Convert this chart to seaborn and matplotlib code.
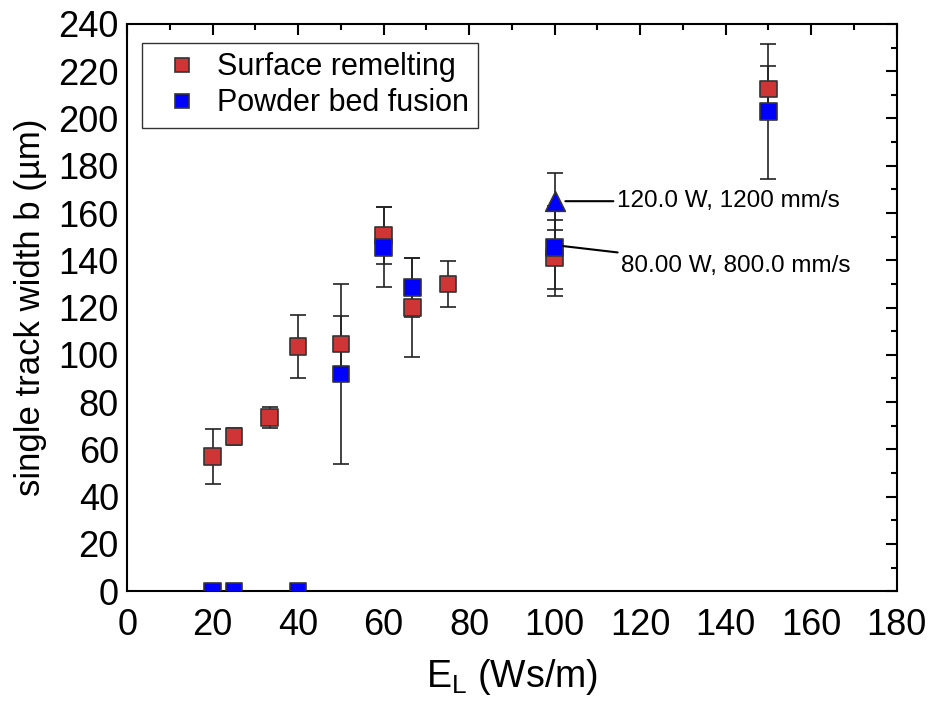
import pandas as pd
import matplotlib.pyplot as plt
import seaborn as sns
from matplotlib.ticker import MultipleLocator

# surface remelting
sr_el = [20, 25, 33.3, 40, 50, 60, 66.7, 75, 100, 150]
sr_b = [57, 65.5, 73.5, 103.5, 104.5, 150.5, 120, 130, 141, 212.5]
sr_err = [11.5, 3.7, 4.3, 13.5, 12, 12, 21, 9.6, 16, 9.7]

# powder bed fusion
pbf_el = [20, 25, 40, 50, 60, 66.7, 100, 150]
pbf_b = [0, 0, 0, 92, 145.5, 128.5, 145.5, 203]
pbf_err = [0, 0, 0, 38, 17, 12.5, 17.5, 28.5]

# highlighted point
hl_el = [100]
hl_b = [165]
hl_err = [12]

df = pd.DataFrame({
    'EL': sr_el + pbf_el,
    'b': sr_b + pbf_b,
    'process': ['Surface remelting'] * len(sr_el) + ['Powder bed fusion'] * len(pbf_el),
})

sns.set_style('white')
plt.rcParams['font.family'] = ['Liberation Sans', 'DejaVu Sans']
plt.rcParams['text.color'] = 'black'
plt.rcParams['axes.labelcolor'] = 'black'
plt.rcParams['xtick.color'] = 'black'
plt.rcParams['ytick.color'] = 'black'

fig = plt.figure(figsize=(9.35, 7.03), dpi=100)
ax = fig.add_axes([0.136, 0.159, 0.823, 0.807])

ax.errorbar(sr_el, sr_b, yerr=sr_err, fmt='none', ecolor='#222222', elinewidth=1.2, capsize=6, capthick=1.2, zorder=1)
ax.errorbar(pbf_el[3:], pbf_b[3:], yerr=pbf_err[3:], fmt='none', ecolor='#222222', elinewidth=1.2, capsize=6, capthick=1.2, zorder=1)
ax.errorbar(hl_el, hl_b, yerr=hl_err, fmt='none', ecolor='#222222', elinewidth=1.2, capsize=6, capthick=1.2, zorder=1)

sns.scatterplot(data=df, x='EL', y='b', hue='process',
                palette={'Surface remelting': '#D03535', 'Powder bed fusion': '#0000FF'},
                marker='s', s=140, edgecolor='#333333', linewidth=1.2, ax=ax, zorder=3)
ax.scatter(hl_el, hl_b, marker='^', s=200, color='#0000FF', edgecolor='#333333', linewidth=1.2, zorder=4)

ax.annotate('120.0 W, 1200 mm/s', xy=(102.5, 165), xytext=(114.5, 165),
            fontsize=17.5, va='center', ha='left',
            arrowprops=dict(arrowstyle='-', color='black', lw=1.5, shrinkA=0, shrinkB=0))
ax.annotate('80.00 W, 800.0 mm/s', xy=(102, 146), xytext=(115.5, 137.5),
            fontsize=17.5, va='center', ha='left',
            arrowprops=dict(arrowstyle='-', color='black', lw=1.5, shrinkA=0, shrinkB=0))

ax.set_xlim(0, 180)
ax.set_ylim(0, 240)
ax.xaxis.set_major_locator(MultipleLocator(20))
ax.xaxis.set_minor_locator(MultipleLocator(10))
ax.yaxis.set_major_locator(MultipleLocator(20))
ax.yaxis.set_minor_locator(MultipleLocator(10))
ax.tick_params(which='both', direction='in', top=True, right=True, width=1.5, labelsize=26)
ax.tick_params(which='major', length=8)
ax.tick_params(which='minor', length=4)
ax.tick_params(axis='x', pad=12)
ax.tick_params(axis='y', pad=6)
for s in ax.spines.values():
    s.set_linewidth(1.5)
    s.set_color('black')

ax.set_xlabel('E$_\\mathregular{L}$ (Ws/m)', fontsize=27, labelpad=10)
ax.set_ylabel('single track width b (\u00b5m)', fontsize=25, labelpad=8)

leg = ax.legend(loc='upper left', fontsize=22, frameon=True, fancybox=False,
                edgecolor='black', borderpad=0.3, handletextpad=0.15, handlelength=2.0,
                labelspacing=0.2, borderaxespad=0,
                bbox_to_anchor=(0.0195, 0.966), markerscale=0.85)
leg.get_frame().set_linewidth(1.0)

fig.savefig('out.png', dpi=100)
